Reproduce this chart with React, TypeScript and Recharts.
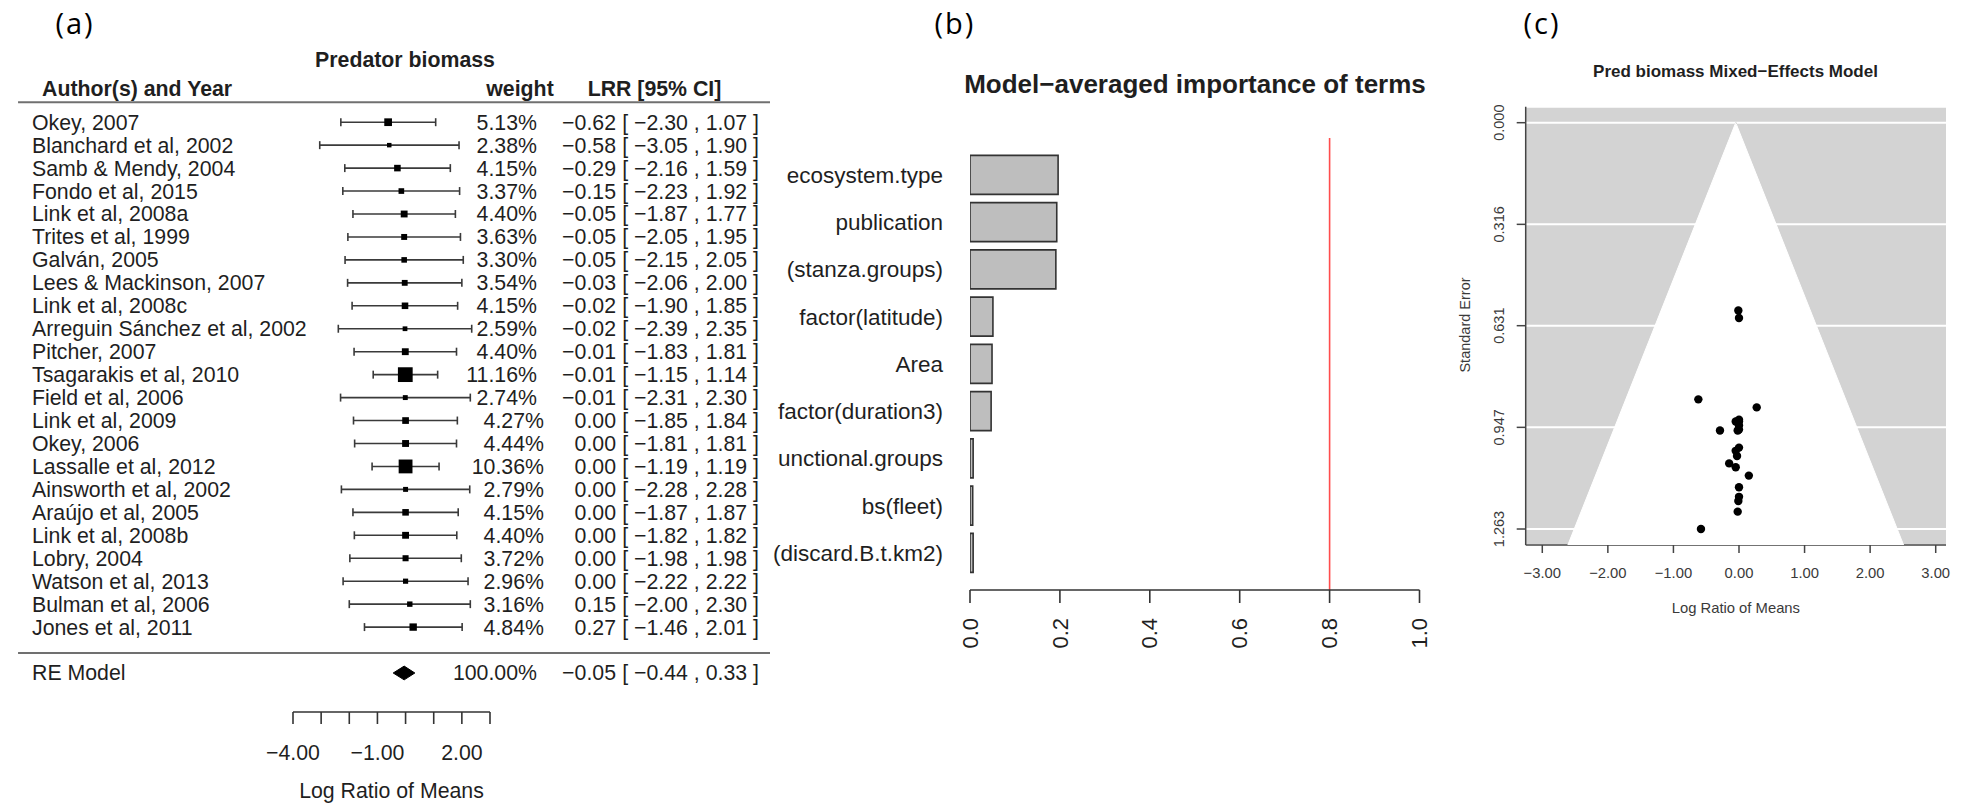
import React from 'react';
import {
  ScatterChart, Scatter, XAxis, YAxis, ErrorBar, ReferenceLine, Label,
  BarChart, Bar, CartesianGrid,
} from 'recharts';

const FONT = '"Liberation Sans", Arial, Helvetica, sans-serif';

// ---------- (a) forest plot data ----------
const studies = [
  'Okey, 2007', 'Blanchard et al, 2002', 'Samb & Mendy, 2004', 'Fondo et al, 2015',
  'Link et al, 2008a', 'Trites et al, 1999', 'Galván, 2005', 'Lees & Mackinson, 2007',
  'Link et al, 2008c', 'Arreguin Sánchez et al, 2002', 'Pitcher, 2007', 'Tsagarakis et al, 2010',
  'Field et al, 2006', 'Link et al, 2009', 'Okey, 2006', 'Lassalle et al, 2012',
  'Ainsworth et al, 2002', 'Araújo et al, 2005', 'Link et al, 2008b', 'Lobry, 2004',
  'Watson et al, 2013', 'Bulman et al, 2006', 'Jones et al, 2011',
];
const weights = [5.13, 2.38, 4.15, 3.37, 4.40, 3.63, 3.30, 3.54, 4.15, 2.59, 4.40, 11.16, 2.74, 4.27, 4.44, 10.36, 2.79, 4.15, 4.40, 3.72, 2.96, 3.16, 4.84];
const lrr = [-0.62, -0.58, -0.29, -0.15, -0.05, -0.05, -0.05, -0.03, -0.02, -0.02, -0.01, -0.01, -0.01, 0.00, 0.00, 0.00, 0.00, 0.00, 0.00, 0.00, 0.00, 0.15, 0.27];
const ciLow = [-2.30, -3.05, -2.16, -2.23, -1.87, -2.05, -2.15, -2.06, -1.90, -2.39, -1.83, -1.15, -2.31, -1.85, -1.81, -1.19, -2.28, -1.87, -1.82, -1.98, -2.22, -2.00, -1.46];
const ciHigh = [1.07, 1.90, 1.59, 1.92, 1.77, 1.95, 2.05, 2.00, 1.85, 2.35, 1.81, 1.14, 2.30, 1.84, 1.81, 1.19, 2.28, 1.87, 1.82, 1.98, 2.22, 2.30, 2.01];
const reLabel = 'RE Model';
const reWeight = 100.0;
const reEst = -0.05;
const reLow = -0.44;
const reHigh = 0.33;
const forestXTicks = [-4, -3, -2, -1, 0, 1, 2, 3];
const forestXTickLabels = ['−4.00', '', '', '−1.00', '', '', '2.00', ''];

// ---------- (b) importance data ----------
const terms = ['ecosystem.type', 'publication', '(stanza.groups)', 'factor(latitude)', 'Area', 'factor(duration3)', 'unctional.groups', 'bs(fleet)', '(discard.B.t.km2)'];
const importance = [0.196, 0.193, 0.191, 0.051, 0.049, 0.047, 0.007, 0.006, 0.007];
const importanceTicks = [0, 0.2, 0.4, 0.6, 0.8, 1.0];
const importanceThreshold = 0.8;

// ---------- (c) funnel data ----------
const funnelSE = [0.860, 1.263, 0.957, 1.059, 0.929, 1.020, 1.071, 1.036, 0.957, 1.209, 0.929, 0.584, 1.176, 0.941, 0.923, 0.607, 1.163, 0.954, 0.929, 1.010, 1.133, 1.097, 0.885];
const funnelXTicks = [-3, -2, -1, 0, 1, 2, 3];
const funnelYTicks = [0, 0.316, 0.631, 0.947, 1.263];
const funnelYTickLabels = ['0.000', '0.316', '0.631', '0.947', '1.263'];
const funnelRegionX = [-0.05, -2.61, 2.51, -0.05];
const funnelRegionY = [0, 1.3127, 1.3127, 0];

// ---------- derived tables ----------
const NROW = studies.length;
const RE_ROW = -1;
const forestData = studies.map((s, i) => ({
  x: lrr[i],
  y: NROW - i,
  w: weights[i],
  err: [lrr[i] - ciLow[i], ciHigh[i] - lrr[i]],
}));
const diamondH = 0.3;
const diamondData = [
  { x: reLow, y: RE_ROW },
  { x: reEst, y: RE_ROW + diamondH },
  { x: reHigh, y: RE_ROW },
  { x: reEst, y: RE_ROW - diamondH },
  { x: reLow, y: RE_ROW },
];
const forestYTicks = [...studies.map((_, i) => NROW - i), RE_ROW];

const importanceData = terms.map((t, i) => ({ term: t, value: importance[i] }));
const funnelPoints = lrr.map((v, i) => ({ x: v, y: funnelSE[i] }));
const funnelRegion = funnelRegionX.map((x, i) => ({ x, y: funnelRegionY[i] }));

const fmt = (v: number) => {
  const s = Math.abs(v).toFixed(2);
  return v < 0 ? '−' + s : s;
};

// ---------- tick renderers ----------
const TXT = '#1f1f1f';
const FS_A = 21.3;

const RowTick = (props: any) => {
  const { y, payload } = props;
  const v = payload.value;
  let label: string, w: number, est: number, lo: number, hi: number;
  if (v === RE_ROW) {
    label = reLabel; w = reWeight; est = reEst; lo = reLow; hi = reHigh;
  } else {
    const i = NROW - v;
    label = studies[i]; w = weights[i]; est = lrr[i]; lo = ciLow[i]; hi = ciHigh[i];
  }
  const common = { y, dy: '0.35em', fontSize: FS_A, fill: TXT, fontFamily: FONT };
  return (
    <g>
      <text x={32} textAnchor="start" {...common}>{label}</text>
      <text x={est < 0 ? 537 : 544} textAnchor="end" {...common}>{w.toFixed(2) + '%'}</text>
      <text x={616} textAnchor="end" {...common}>{fmt(est)}</text>
      <text x={759} textAnchor="end" {...common}>{`[ ${fmt(lo)} , ${fmt(hi)} ]`}</text>
    </g>
  );
};

const ForestXTick = (props: any) => {
  const { x, y, payload } = props;
  const idx = forestXTicks.indexOf(payload.value);
  const lab = idx >= 0 ? forestXTickLabels[idx] : '';
  if (!lab) return <g />;
  return (
    <text x={x} y={y + 36} textAnchor="middle" fontSize={FS_A} fill={TXT} fontFamily={FONT}>{lab}</text>
  );
};

const Square = (p: any) => {
  const s = 1.7 + 1.17 * p.payload.w;
  return <rect x={p.cx - s / 2} y={p.cy - s / 2} width={s} height={s} fill="#000" />;
};
const Empty = () => <g />;

const TermTick = (props: any) => {
  const { y, payload } = props;
  return (
    <text x={183} y={y} dy="0.35em" textAnchor="end" fontSize={22.5} fill={TXT} fontFamily={FONT}>{payload.value}</text>
  );
};

const ImpXTick = (props: any) => {
  const { x, y, payload } = props;
  const ty = y + 15;
  return (
    <text x={x} y={ty} dy="0.35em" textAnchor="end" transform={`rotate(-90, ${x}, ${ty})`} fontSize={22} fill={TXT} fontFamily={FONT}>
      {Number(payload.value).toFixed(1)}
    </text>
  );
};

const FTXT = '#3a3a3a';
const FunnelXTick = (props: any) => {
  const { x, y, payload } = props;
  return (
    <text x={x} y={y + 25} textAnchor="middle" fontSize={14.8} fill={FTXT} fontFamily={FONT}>{fmt(payload.value)}</text>
  );
};
const FunnelYTick = (props: any) => {
  const { x, y, payload } = props;
  const idx = funnelYTicks.indexOf(payload.value);
  const lab = idx >= 0 ? funnelYTickLabels[idx] : String(payload.value);
  const tx = x - 17.7;
  return (
    <text x={0} y={0} dy="0.35em" textAnchor="middle" transform={`translate(${tx}, ${y}) rotate(-90)`} fontSize={14.5} fill={FTXT} fontFamily={FONT}>{lab}</text>
  );
};
const Dot = (p: any) => <circle cx={p.cx} cy={p.cy} r={4.2} fill="#000" />;

export default function App() {
  return (
    <div style={{ position: 'absolute', left: 0, top: 0, width: 1968, height: 803, background: '#fff', overflow: 'hidden' }}>
      {/* (a) forest plot */}
      <div style={{ position: 'absolute', left: 0, top: 0 }}>
        <ScatterChart width={770} height={803} margin={{ top: 76.3, right: 280, bottom: 0, left: 0 }}>
          <XAxis
            type="number" dataKey="x" domain={[-4, 3]} ticks={forestXTicks} allowDataOverflow
            height={91} tickSize={12} tickMargin={0} interval={0}
            axisLine={{ stroke: '#333', strokeWidth: 1.6 }} tickLine={{ stroke: '#333', strokeWidth: 1.6 }}
            tick={ForestXTick}
          >
            <Label value="Log Ratio of Means" position="insideBottom" offset={5} fontSize={FS_A} fill={TXT} fontFamily={FONT} />
          </XAxis>
          <YAxis
            type="number" dataKey="y" domain={[-2.7, 25]} ticks={forestYTicks} allowDataOverflow interval={0}
            width={293} axisLine={false} tickLine={false} tick={RowTick}
          />
          <ReferenceLine segment={[{ x: -13.77, y: 23.87 }, { x: 12.95, y: 23.87 }]} ifOverflow="visible" stroke="#707070" strokeWidth={2.2} />
          <ReferenceLine segment={[{ x: -13.77, y: -0.13 }, { x: 12.95, y: -0.13 }]} ifOverflow="visible" stroke="#707070" strokeWidth={2.2} />
          <Scatter data={forestData} shape={Square} isAnimationActive={false}>
            <ErrorBar dataKey="err" direction="x" width={4} stroke="#3a3a3a" strokeWidth={1.6} isAnimationActive={false} />
          </Scatter>
          <Scatter data={diamondData} shape={Empty} line={{ stroke: '#000', strokeWidth: 1, fill: '#000' }} lineType="joint" isAnimationActive={false} />
        </ScatterChart>
      </div>

      {/* (b) importance bars */}
      <div style={{ position: 'absolute', left: 760, top: 0, width: 700, height: 803 }}>
        <BarChart layout="vertical" width={700} height={803} data={importanceData} margin={{ top: 138, right: 40.5, bottom: 153, left: 0 }}>
          <XAxis
            type="number" domain={[0, 1]} ticks={importanceTicks} allowDataOverflow interval={0}
            height={60} tickSize={13} tickMargin={0}
            axisLine={{ stroke: '#333', strokeWidth: 1.6 }} tickLine={{ stroke: '#333', strokeWidth: 1.6 }}
            tick={ImpXTick}
          />
          <YAxis
            type="category" dataKey="term" width={210} axisLine={false} tickLine={false}
            padding={{ top: 13.4, bottom: 13.4 }} interval={0} tick={TermTick}
          />
          <Bar dataKey="value" fill="#bebebe" stroke="#333" strokeWidth={1.6} barSize={39} isAnimationActive={false} />
          <ReferenceLine x={importanceThreshold} stroke="#ff4d4d" strokeWidth={1.6} />
        </BarChart>
      </div>

      {/* (c) funnel plot */}
      <div style={{ position: 'absolute', left: 1460, top: 0 }}>
        <ScatterChart width={508} height={803} margin={{ top: 106.7, right: 22, bottom: 178, left: 0 }}>
          <CartesianGrid fill="#d3d3d3" stroke="#ffffff" strokeWidth={2} vertical={false} />
          <XAxis
            type="number" dataKey="x" domain={[-3.253, 3.157]} ticks={funnelXTicks} allowDataOverflow interval={0}
            height={80} tickSize={8} tickMargin={0}
            axisLine={{ stroke: '#444', strokeWidth: 1.5 }} tickLine={{ stroke: '#444', strokeWidth: 1.5 }}
            tick={FunnelXTick}
          >
            <Label value="Log Ratio of Means" position="insideBottom" offset={12} fontSize={14.8} fill={FTXT} fontFamily={FONT} />
          </XAxis>
          <YAxis
            type="number" dataKey="y" reversed domain={[-0.0497, 1.3127]} ticks={funnelYTicks} allowDataOverflow interval={0}
            width={65.7} tickSize={9} tickMargin={0}
            axisLine={{ stroke: '#444', strokeWidth: 1.5 }} tickLine={{ stroke: '#444', strokeWidth: 1.5 }}
            tick={FunnelYTick}
          />
          <Scatter data={funnelRegion} shape={Empty} line={{ stroke: '#ffffff', strokeWidth: 1, fill: '#ffffff' }} lineType="joint" isAnimationActive={false} />
          <ReferenceLine segment={[{ x: reEst, y: 0 }, { x: reEst, y: 1.3127 }]} stroke="#555" strokeWidth={1.5} />
          <Scatter data={funnelPoints} shape={Dot} isAnimationActive={false} />
        </ScatterChart>
      </div>

      {/* titles and panel letters */}
      <svg width={1968} height={803} style={{ position: 'absolute', left: 0, top: 0, pointerEvents: 'none' }}>
        <g fontFamily='"Open Sans", "Noto Sans", sans-serif' fontSize={29} fill="#000" textAnchor="middle" letterSpacing={2}>
          <text x={75} y={34}>(a)</text>
          <text x={955} y={34}>(b)</text>
          <text x={1542} y={34}>(c)</text>
        </g>
        <g fontFamily={FONT} fontWeight="bold" fill={TXT}>
          <text x={405} y={66.7} fontSize={FS_A} textAnchor="middle">Predator biomass</text>
          <text x={42} y={96} fontSize={FS_A} textAnchor="start">Author(s) and Year</text>
          <text x={520} y={96} fontSize={FS_A} textAnchor="middle">weight</text>
          <text x={654.5} y={96} fontSize={FS_A} textAnchor="middle">LRR [95% CI]</text>
          <text x={1195} y={92.7} fontSize={26} textAnchor="middle">Model−averaged importance of terms</text>
          <text x={1735.5} y={76.7} fontSize={17} textAnchor="middle">Pred biomass Mixed−Effects Model</text>
        </g>
        <text x={0} y={0} dy="0.35em" transform="translate(1465, 325) rotate(-90)" textAnchor="middle" fontSize={14.5} fill={FTXT} fontFamily={FONT}>Standard Error</text>
      </svg>
    </div>
  );
}
